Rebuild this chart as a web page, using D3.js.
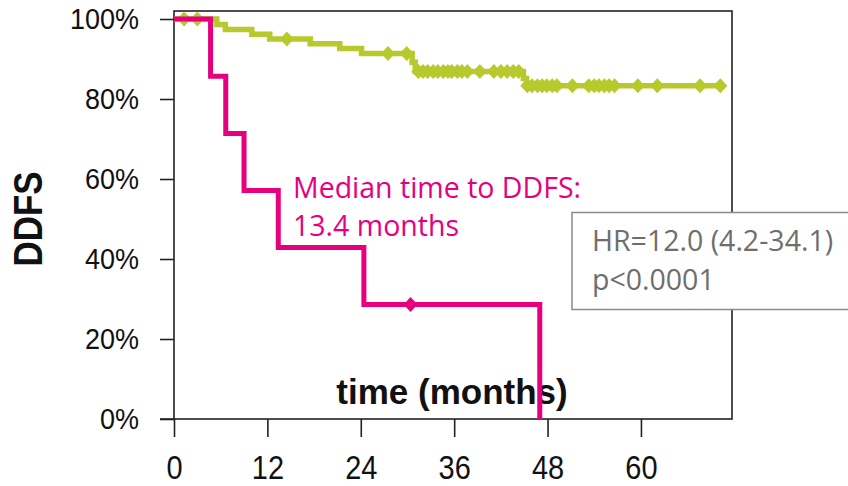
<!DOCTYPE html>
<html><head><meta charset="utf-8">
<script src="https://cdn.jsdelivr.net/npm/d3@7"></script>
<style>html,body{margin:0;padding:0;background:#fff;}svg{display:block;}</style>
</head><body>
<svg id="c" width="848" height="486"></svg>
<script>
// ---- data ----
const xTicks = [0, 12, 24, 36, 48, 60];
const yTicks = [0, 20, 40, 60, 80, 100];
const yTickLabels = ["0%", "20%", "40%", "60%", "80%", "100%"];

const greenTimes = [0, 5.5, 6.6, 10.0, 12.3, 17.5, 21.3, 24.1, 30.6, 31.0, 44.9, 45.3];
const greenSurv  = [100, 98.6, 97.4, 96.2, 95.0, 93.8, 92.6, 91.4, 89.2, 86.9, 85.1, 83.3];
const greenEnd = 70.8;
const greenCensor = [1.3, 3.0, 14.5, 27.5, 29.9,
  31.4, 32.0, 32.6, 33.3, 33.9, 34.6, 35.2, 35.7, 36.4, 37.0, 37.7, 39.3, 41.1, 42.0, 42.8, 43.6, 44.3,
  45.4, 46.0, 46.7, 47.3, 47.9, 48.6, 49.2, 51.2, 53.3, 54.0, 54.6, 55.3, 55.9, 56.6, 59.6, 62.1, 67.6, 70.2];

const pinkTimes = [0, 4.7, 6.65, 9.0, 13.4, 24.4, 47.0];
const pinkSurv  = [100, 85.7, 71.4, 57.1, 42.9, 28.6, 0];
const pinkEnd = 47.0;
const pinkCensor = [30.4];

const medianLines = ["Median time to DDFS:", "13.4 months"];
const statLines = ["HR=12.0 (4.2-34.1)", "p<0.0001"];

// ---- drawing ----
const svg = d3.select("#c");
const GREEN = "#b7c92c", PINK = "#e6007e", AX = "#222";
const x = d3.scaleLinear().domain([0, 71.7]).range([174, 732]);
const y = d3.scaleLinear().domain([0, 102]).range([419, 11]);

function stepPts(times, surv, end) {
  const p = times.map((t, i) => [t, surv[i]]);
  if (end > times[times.length - 1]) p.push([end, surv[surv.length - 1]]);
  return p;
}
function survAt(times, surv, t) {
  let s = surv[0];
  for (let i = 0; i < times.length; i++) if (times[i] <= t) s = surv[i];
  return s;
}
const line = d3.line().x(d => x(d[0])).y(d => y(d[1])).curve(d3.curveStepAfter);
const diamond = "M0,-7.5L7,0L0,7.5L-7,0Z";

// frame
svg.append("rect").attr("x", x(0)).attr("y", y(102)).attr("width", x(71.7) - x(0)).attr("height", y(0) - y(102))
  .attr("fill", "none").attr("stroke", AX).attr("stroke-width", 1.6);

// y axis
const yAxis = d3.axisLeft(y).tickValues(yTicks).tickSize(14).tickPadding(21)
  .tickFormat((d, i) => yTickLabels[i]);
const gy = svg.append("g").attr("transform", `translate(${x(0)},0)`).call(yAxis);
gy.select(".domain").remove();
gy.selectAll(".tick line").attr("stroke", AX).attr("stroke-width", 1.6);
gy.selectAll(".tick text").attr("font-family", "Liberation Sans, Arial, sans-serif")
  .attr("font-size", 27).attr("fill", "#111").attr("dy", null)
  .attr("transform", "translate(0,9) scale(1,1.12)").attr("y", 0);

// x axis
const xAxis = d3.axisBottom(x).tickValues(xTicks).tickSize(18).tickPadding(18).tickFormat(d3.format("d"));
const gx = svg.append("g").attr("transform", `translate(0,${y(0)})`).call(xAxis);
gx.select(".domain").remove();
gx.selectAll(".tick line").attr("stroke", AX).attr("stroke-width", 1.6);
gx.selectAll(".tick text").attr("font-family", "Liberation Sans, Arial, sans-serif")
  .attr("font-size", 29).attr("fill", "#111").attr("dy", null).attr("y", 0)
  .attr("transform", "translate(0,60) scale(1,1.12)");
svg.append("line").attr("x1", 160).attr("x2", x(0)).attr("y1", y(0)).attr("y2", y(0))
  .attr("stroke", AX).attr("stroke-width", 1.6);

// axis titles
svg.append("text").attr("transform", "translate(42,219) rotate(-90) scale(1,1.15)").attr("text-anchor", "middle")
  .attr("font-family", "Liberation Sans, Arial, sans-serif").attr("font-weight", "bold")
  .attr("font-size", 35).attr("fill", "#111").text("DDFS");
svg.append("text").attr("x", 452).attr("y", 404).attr("text-anchor", "middle")
  .attr("font-family", "Liberation Sans, Arial, sans-serif").attr("font-weight", "bold")
  .attr("font-size", 35).attr("fill", "#111").text("time (months)");

// green curve
svg.append("path").datum(stepPts(greenTimes, greenSurv, greenEnd)).attr("d", line)
  .attr("fill", "none").attr("stroke", GREEN).attr("stroke-width", 5.5);
svg.selectAll(".gc").data(greenCensor).enter().append("path").attr("class", "gc")
  .attr("d", diamond).attr("fill", GREEN)
  .attr("transform", d => `translate(${x(d)},${y(survAt(greenTimes, greenSurv, d))})`);

// pink curve
svg.append("path").datum(stepPts(pinkTimes, pinkSurv, pinkEnd)).attr("d", line)
  .attr("fill", "none").attr("stroke", PINK).attr("stroke-width", 5);
svg.selectAll(".pc").data(pinkCensor).enter().append("path").attr("class", "pc")
  .attr("d", diamond).attr("fill", PINK)
  .attr("transform", d => `translate(${x(d)},${y(survAt(pinkTimes, pinkSurv, d))})`);

// median annotation
svg.selectAll(".med").data(medianLines).enter().append("text").attr("class", "med")
  .attr("x", 293).attr("y", (d, i) => 198 + i * 38)
  .attr("font-family", "Open Sans, Noto Sans, sans-serif").attr("font-size", 28.5)
  .attr("fill", PINK).text(d => d);

// stats box
svg.append("rect").attr("x", 572).attr("y", 212.5).attr("width", 290).attr("height", 97)
  .attr("fill", "#fff").attr("stroke", "#8a8a8a").attr("stroke-width", 1.5);
svg.selectAll(".st").data(statLines).enter().append("text").attr("class", "st")
  .attr("x", 592).attr("y", (d, i) => 251 + i * 39)
  .attr("font-family", "Open Sans, Noto Sans, sans-serif").attr("font-size", 28.5)
  .attr("fill", "#6e6e6e").text(d => d);
</script>
</body></html>
